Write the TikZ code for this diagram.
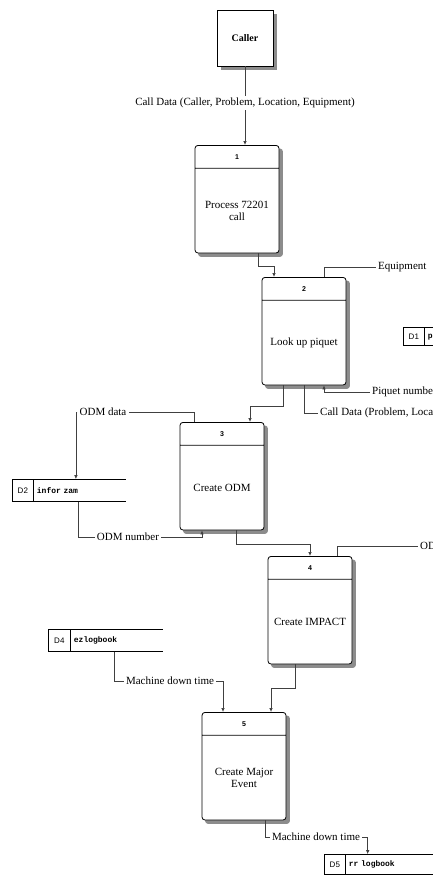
\documentclass[tikz,border=0pt]{standalone}
\usepackage{fontspec}
\setmainfont{Liberation Serif}
\setsansfont{Liberation Sans}
\setmonofont{Liberation Mono}
\usetikzlibrary{shapes.multipart,arrows.meta,positioning,backgrounds}
\newcommand{\procnum}[1]{\parbox[c][22pt]{84pt}{\centering\sffamily\bfseries\scriptsize #1}}
\newcommand{\procbody}[1]{\parbox[c][84pt]{84pt}{\centering #1}}

\begin{document}
\begin{tikzpicture}[x=1pt,y=1pt,font=\fontsize{11}{12}\selectfont]
\tikzstyle{proc}=[rectangle split, rectangle split parts=2, draw, line width=0.8pt, rounded corners=3pt, fill=white, inner sep=0pt, anchor=north]
\tikzstyle{sid}=[draw, line width=0.7pt, minimum width=21pt, minimum height=22pt, inner sep=0pt, anchor=north west, font=\sffamily\fontsize{8}{9}\selectfont]
\tikzstyle{stxt}=[minimum height=22pt, text width=86pt, inner ysep=0pt, inner xsep=3pt, align=left, font=\ttfamily\bfseries\fontsize{8}{9}\selectfont]
\tikzstyle{lbl}=[inner sep=2pt]
\tikzstyle{flow}=[draw=black!75, line width=0.7pt]
\tikzstyle{flowto}=[flow, -{Latex[length=4pt,width=3.5pt]}]
\tikzstyle{shadowfill}=[fill=black!45, rounded corners=3pt]
\useasboundingbox (0,0) rectangle (433,-878);
\clip (0,0) rectangle (433,-878);

% external entity
\node [draw, line width=0.8pt, minimum size=56pt, fill=white, font=\bfseries\fontsize{10}{12}\selectfont] (caller) at (245,-38) {Caller};

% processes
\node [proc] (p1) at (237,-145) {\procnum{1}\nodepart{two}\procbody{Process 72201\\call}};
\node [proc] (p2) at (304,-277) {\procnum{2}\nodepart{two}\procbody{Look up piquet}};
\node [proc] (p3) at (222,-422) {\procnum{3}\nodepart{two}\procbody{Create ODM}};
\node [proc] (p4) at (310,-556) {\procnum{4}\nodepart{two}\procbody{Create IMPACT}};
\node [proc] (p5) at (244,-712) {\procnum{5}\nodepart{two}\procbody{Create Major\\Event}};

% shadows
\begin{scope}[on background layer]
\fill [black!45] ([shift={(4pt,-4pt)}]caller.north west) rectangle ([shift={(4pt,-4pt)}]caller.south east);
\foreach \p in {p1,p2,p3,p4,p5}
  \fill [shadowfill] ([shift={(3.5pt,-3.5pt)}]\p.north west) rectangle ([shift={(3.5pt,-3.5pt)}]\p.south east);
\end{scope}

% data stores
\node [sid, minimum height=18pt] (d1) at (403,-327) {D1};
\node [stxt, minimum height=18pt, right=0pt of d1] (d1t) {piquet list};
\node [sid] (d2) at (12,-479) {D2};
\node [stxt, right=0pt of d2] (d2t) {infor zam};
\node [sid, minimum width=22pt] (d4) at (48,-629) {D4};
\node [stxt, right=0pt of d4] (d4t) {ezlogbook};
\node [sid, minimum height=20pt] (d5) at (324,-854) {D5};
\node [stxt, minimum height=20pt, right=0pt of d5] (d5t) {rr logbook};
\draw [line width=0.7pt] (d1t.north west) -- (d1t.north east) (d1t.south west) -- (d1t.south east)
  (d2t.north west) -- (d2t.north east) (d2t.south west) -- (d2t.south east)
  (d4t.north west) -- (d4t.north east) (d4t.south west) -- (d4t.south east)
  (d5t.north west) -- (d5t.north east) (d5t.south west) -- (d5t.south east);

% flow labels
\node [lbl] (lcd1) at (245,-103) {Call Data (Caller, Problem, Location, Equipment)};
\node [lbl, anchor=west] (leq) at (376,-267) {Equipment};
\node [lbl, anchor=west] (lpn) at (370,-392) {Piquet number};
\node [lbl, anchor=west] (lcd2) at (318,-413) {Call Data (Problem, Location)};
\node [lbl] (lod) at (103,-412) {ODM data};
\node [lbl] (lon) at (128,-537) {ODM number};
\node [lbl, anchor=west] (lodm) at (418,-546) {ODM number};
\node [lbl] (lmd1) at (170,-681) {Machine down time};
\node [lbl] (lmd2) at (316,-837) {Machine down time};

% flows
\draw [flow] (caller) -- (lcd1);
\draw [flowto] (lcd1) -- (lcd1 |- p1.north);
\draw [flowto] ([xshift=21pt]p1.south) -- ++(0,-13) -| ([xshift=-30pt]p2.north);
\draw [flow] ([xshift=20pt]p2.north) |- (leq);
\draw [flowto] (lpn) -| ([xshift=20pt]p2.south);
\draw [flowto] ([xshift=-21pt]p2.south) -- ++(0,-21) -| ([xshift=28pt]p3.north);
\draw [flow] (p2.south) |- (lcd2);
\draw [flow] ([xshift=-28pt]p3.north) |- (lod);
\draw [flowto] (lod) -| ([xshift=-4pt]d2t.north);
\draw [flow] ([xshift=-2pt]d2t.south) |- (lon);
\draw [flowto] (lon) -| ([xshift=-20pt]p3.south);
\draw [flowto] ([xshift=14pt]p3.south) -- ++(0,-14) -| (p4.north);
\draw [flow] ([xshift=27pt]p4.north) |- (lodm);
\draw [flow] ([xshift=-3pt]d4t.south) |- (lmd1);
\draw [flowto] (lmd1) -| ([xshift=-21pt]p5.north);
\draw [flowto] ([xshift=-15pt]p4.south) -- ++(0,-24) -| ([xshift=27pt]p5.north);
\draw [flow] ([xshift=21pt]p5.south) |- (lmd2);
\draw [flowto] (lmd2) -| ([xshift=22pt]d5t.north west);
\end{tikzpicture}
\end{document}
